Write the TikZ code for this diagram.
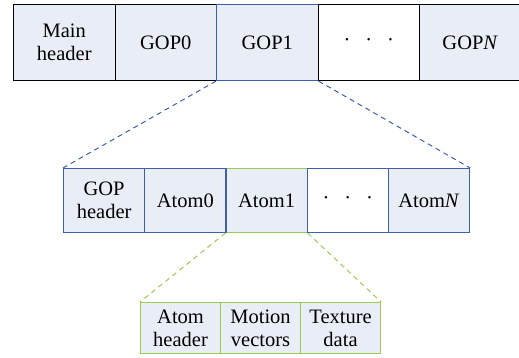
\documentclass[tikz,border=0pt]{standalone}
\usepackage{fontspec}
\setmainfont{Liberation Serif}
\definecolor{cellfill}{HTML}{E9EEF6}
\definecolor{cellblue}{HTML}{3D5FAE}
\definecolor{cellgreen}{HTML}{9CCB52}
\newcommand{\spaceddots}{\textperiodcentered\hspace{15pt}\textperiodcentered\hspace{15pt}\textperiodcentered}
\begin{document}
\begin{tikzpicture}[x=1pt,y=-1pt,
  cell/.style={draw, line width=1.1pt, fill=cellfill, anchor=north west, inner sep=0pt,
    align=center, font=\fontsize{20.5}{23}\selectfont},
  topcell/.style={cell, draw=black, minimum width=101.5pt, minimum height=76pt},
  midcell/.style={cell, draw=cellblue, minimum width=81.2pt, minimum height=64pt},
  lowcell/.style={cell, draw=cellgreen, minimum width=80pt, minimum height=51pt},
  zoomline/.style={line width=1pt, dash pattern=on 5pt off 4pt}]
\useasboundingbox (0,0) rectangle (519,358);
% stream level
\node[topcell] (main) at (13,4) {Main\\header};
\node[topcell] (gop0) at (114.5,4) {GOP0};
\node[topcell, draw=cellblue] (gop1) at (216,4) {GOP1};
\node[topcell, fill=white] (gdots) at (317.5,4) {\spaceddots};
\node[topcell] (gopn) at (419,4) {GOP\textit{N}};
% GOP level
\node[midcell, draw=cellgreen] (atom1) at (225.4,168) {Atom1};
\node[midcell] (gophdr) at (63,168) {GOP\\header};
\node[midcell] (atom0) at (144.2,168) {Atom0};
\node[midcell, fill=white] (adots) at (306.6,168) {\spaceddots};
\node[midcell] (atomn) at (387.8,168) {Atom\textit{N}};
% atom level
\node[lowcell] (ahdr) at (140,302) {Atom\\header};
\node[lowcell] (mv) at (220,302) {Motion\\vectors};
\node[lowcell] (tex) at (300,302) {Texture\\data};
% zoom guides
\draw[zoomline, cellblue] (gop1.south west) -- (gophdr.north west);
\draw[zoomline, cellblue] (gop1.south east) -- (atomn.north east);
\draw[zoomline, cellgreen] (atom1.south west) -- (ahdr.north west);
\draw[zoomline, cellgreen] (atom1.south east) -- (tex.north east);
\end{tikzpicture}
\end{document}
